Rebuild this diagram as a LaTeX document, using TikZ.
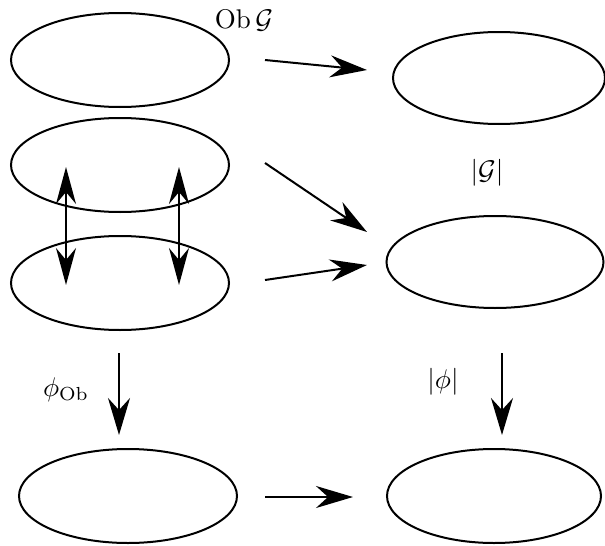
\documentclass[tikz,border=0pt]{standalone}
\usetikzlibrary{shapes.geometric,arrows.meta}
\begin{document}
\begin{tikzpicture}[x=1pt,y=-1pt,
  blob/.style={draw,ellipse,line width=2pt,inner sep=0pt,minimum width=218pt,minimum height=94pt},
  arr/.style={line width=2pt,-{Stealth[length=37pt,width=22pt,inset=12pt]}},
  darr/.style={line width=2pt,{Stealth[length=37pt,width=20pt,inset=12pt]}-{Stealth[length=37pt,width=20pt,inset=12pt]}},
  lab/.style={inner sep=0pt,scale=2.7}]
\useasboundingbox (0,0) rectangle (605,546);
\node[blob] (A) at (120,60) {};
\node[blob,minimum width=212pt,minimum height=92pt] (B) at (499,78) {};
\node[blob] (C) at (120,165) {};
\node[blob] (D) at (120,283) {};
\node[blob,minimum width=217pt,minimum height=92pt] (E) at (495,262) {};
\node[blob] (F) at (128,496) {};
\node[blob,minimum width=214pt] (G) at (494,496) {};
% labels
\node[lab] (obg) at (244,20) {$\mathrm{Ob}\,\mathcal{G}$};
\node[lab] (absg) at (487,173) {$|\mathcal{G}|$};
\node[lab] (phiob) at (66,390) {$\phi_{\mathrm{Ob}}$};
\node[lab] (absphi) at (443,382) {$|\phi|$};
% connector ends
\coordinate (ab1) at (265,60);  \coordinate (ab2) at (367,70);
\coordinate (ce1) at (265,163); \coordinate (ce2) at (367,232);
\coordinate (de1) at (265,280); \coordinate (de2) at (367,265);
\coordinate (fg1) at (265,497); \coordinate (fg2) at (353,497);
\coordinate (df1) at (119,353); \coordinate (df2) at (119,435);
\coordinate (eg1) at (502,353); \coordinate (eg2) at (502,435);
\coordinate (l1) at (66,167);  \coordinate (l2) at (66,285);
\coordinate (r1) at (179,167); \coordinate (r2) at (179,285);
\draw[arr] (ab1) -- (ab2);
\draw[arr] (ce1) -- (ce2);
\draw[arr] (de1) -- (de2);
\draw[arr] (fg1) -- (fg2);
\draw[arr] (df1) -- (df2);
\draw[arr] (eg1) -- (eg2);
\draw[darr] (l1) -- (l2);
\draw[darr] (r1) -- (r2);
\end{tikzpicture}
\end{document}
